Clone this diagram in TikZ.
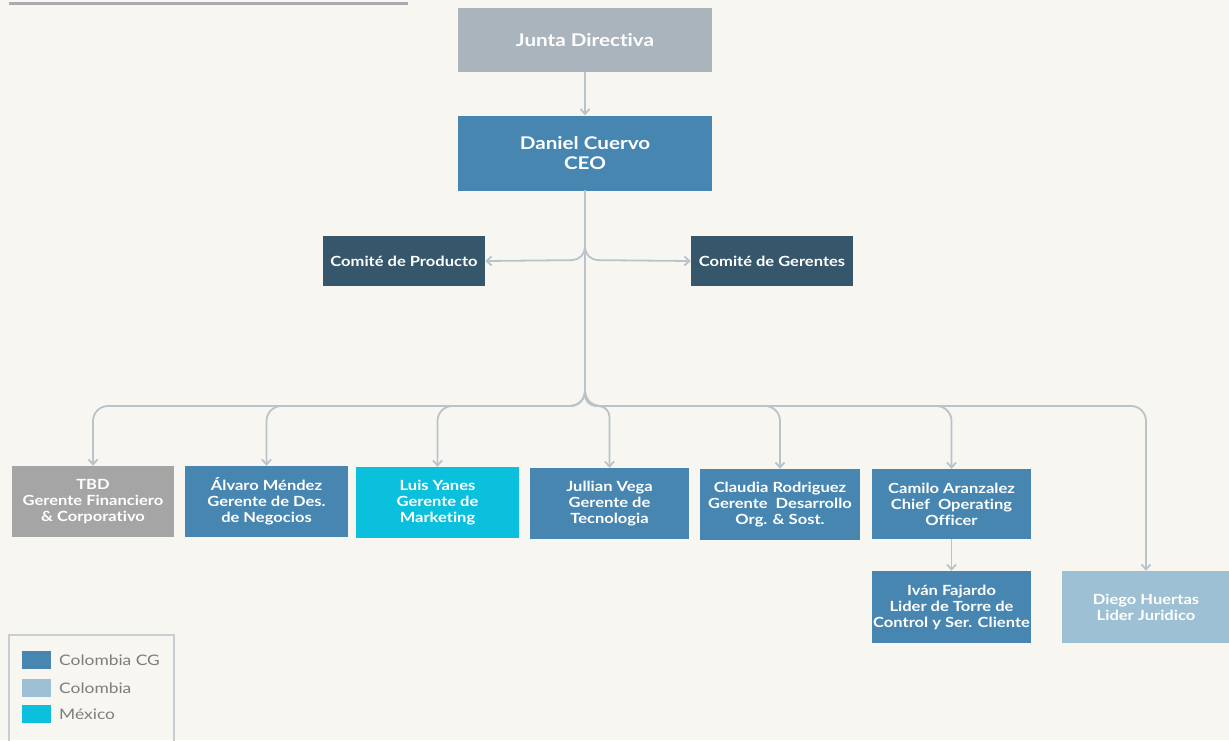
\documentclass[tikz,border=0pt]{standalone}
\usepackage{fontspec}
\setmainfont{Lato}
\newfontfamily\boxfont[FakeStretch=1.18,Ligatures=NoCommon]{Lato}
\newfontfamily\legfont[FakeStretch=1.2,Ligatures=NoCommon]{Lato}
\usetikzlibrary{arrows.meta}
\definecolor{bg}{HTML}{F7F6F1}
\definecolor{junta}{HTML}{AAB4BD}
\definecolor{cgblue}{HTML}{4686B1}
\definecolor{comite}{HTML}{36566B}
\definecolor{tbdgray}{HTML}{A5A5A5}
\definecolor{mex}{HTML}{0BC0DD}
\definecolor{colblue}{HTML}{9DC0D4}
\definecolor{conn}{HTML}{B9C3CA}
\definecolor{legtext}{HTML}{7D7D7D}
\definecolor{legborder}{HTML}{C9CED2}
\definecolor{topline}{HTML}{ABAAB1}
\begin{document}
\begin{tikzpicture}[x=1pt,y=-1pt,
  orgbox/.style={rectangle, inner sep=0pt, text=white, align=center,
    font=\boxfont\bfseries\fontsize{14}{16}\selectfont,
    minimum width=162pt, minimum height=71pt},
  topbox/.style={orgbox, minimum width=254pt, font=\boxfont\bfseries\fontsize{17.5}{20}\selectfont},
  comitebox/.style={orgbox, fill=comite, minimum width=162pt, minimum height=50pt,
    font=\boxfont\bfseries\fontsize{14}{16}\selectfont},
  link/.style={draw=conn, line width=1.8pt, -{Straight Barb[length=5pt,width=9pt]}},
  swatch/.style={rectangle, inner sep=0pt, minimum width=29pt, minimum height=18pt},
  legtxt/.style={anchor=west, inner sep=0pt, text=legtext, font=\legfont\fontsize{14.5}{16}\selectfont}
]
\fill[bg] (0,0) rectangle (1229,740);
\useasboundingbox (0,0) rectangle (1229,740);

\draw[topline, line width=3pt] (9,3) -- (408,3);

% top nodes
\node[topbox, fill=junta, minimum height=64pt] (junta) at (585,40) {Junta Directiva};
\node[topbox, fill=cgblue, minimum height=75pt] (ceo) at (585,153) {Daniel Cuervo\\CEO};
\node[comitebox] (cprod) at (404,261) {Comité de Producto};
\node[comitebox] (cger) at (772,261) {Comité de Gerentes};

% row nodes
\node[orgbox, fill=tbdgray] (tbd) at (93,501.5) {TBD\\Gerente Financiero\\\& Corporativo};
\node[orgbox, fill=cgblue, minimum width=163pt] (alvaro) at (266.5,501.5) {Álvaro Méndez\\Gerente de Des.\\de Negocios};
\node[orgbox, fill=mex, minimum width=163pt] (luis) at (437.5,502.5) {Luis Yanes\\Gerente de\\Marketing};
\node[orgbox, fill=cgblue, minimum width=159pt] (jullian) at (609.5,503.5) {Jullian Vega\\Gerente de\\Tecnologia};
\node[orgbox, fill=cgblue, minimum width=160pt] (claudia) at (780,504.5) {Claudia Rodriguez\\Gerente\ \ Desarrollo\\Org. \& Sost.};
\node[orgbox, fill=cgblue, minimum width=159pt, minimum height=70pt] (camilo) at (951.5,504) {Camilo Aranzalez\\Chief\ \ Operating\\Officer};
\node[orgbox, fill=cgblue, minimum width=159pt, minimum height=72pt] (ivan) at (951.5,607) {Iván Fajardo\\Lider de Torre de\\Control y Ser. Cliente};
\node[orgbox, fill=colblue, minimum width=168pt, minimum height=72pt] (diego) at (1146,607) {Diego Huertas\\Lider Juridico};

% connectors
\coordinate (cfork) at (585,260);
\coordinate (bus) at (585,406);
\draw[link] (junta) -- (ceo);
\draw[link, rounded corners=13pt] (ceo.south) -- (cfork) -- (cprod.east);
\draw[link, rounded corners=13pt] (ceo.south) -- (cfork) -- (cger.west);
\draw[link, rounded corners=15pt] (ceo.south) -- (bus) -| (tbd.north);
\draw[link, rounded corners=15pt] (ceo.south) -- (bus) -| (alvaro.north);
\draw[link, rounded corners=15pt] (ceo.south) -- (bus) -| (luis.north);
\draw[link, rounded corners=11pt] (ceo.south) -- (bus) -| (jullian.north);
\draw[link, rounded corners=15pt] (ceo.south) -- (bus) -| (claudia.north);
\draw[link, rounded corners=15pt] (ceo.south) -- (bus) -| (camilo.north);
\draw[link, rounded corners=15pt] (ceo.south) -- (bus) -| (diego.north);
\draw[link] (camilo) -- (ivan);

% legend
\node[draw=legborder, line width=1.5pt, rectangle, inner sep=0pt,
  minimum width=165pt, minimum height=125pt, anchor=north west] (legend) at (8,634) {};
\node[swatch, fill=cgblue] (s1) at (36.5,660) {};
\node[swatch, fill=colblue] (s2) at (36.5,688) {};
\node[swatch, fill=mex] (s3) at (36.5,714) {};
\node[legtxt] (t1) at (59,660) {Colombia CG};
\node[legtxt] (t2) at (59,688) {Colombia};
\node[legtxt] (t3) at (59,714) {México};
\end{tikzpicture}
\end{document}
